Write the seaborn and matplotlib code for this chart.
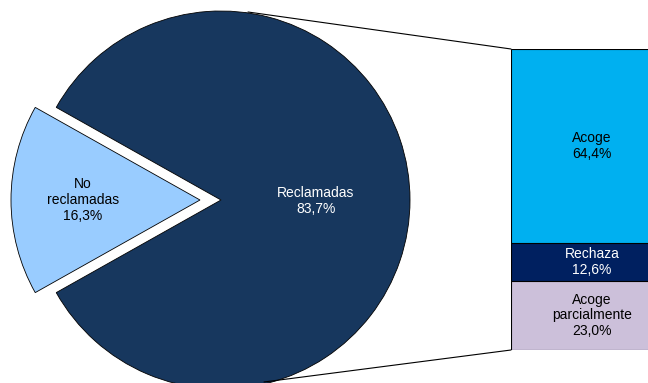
import matplotlib
matplotlib.use("Agg")
import matplotlib.pyplot as plt
import seaborn as sns
import pandas as pd

# Pie data
pie_labels = ["Reclamadas", "No\nreclamadas"]
pie_values = [83.7, 16.3]
pie_colors = ["#17375E", "#99CCFF"]
pie_text_colors = ["white", "black"]

# Breakdown of "Reclamadas" (bottom to top)
bar_labels = ["Acoge\nparcialmente", "Rechaza", "Acoge"]
bar_values = [23.0, 12.6, 64.4]
bar_colors = ["#CCC0DA", "#002060", "#00B0F0"]
bar_text_colors = ["black", "white", "black"]


def pct(v):
    return f"{v:.1f}".replace(".", ",") + "%"


sns.set_theme(style="white")
plt.rcParams["font.family"] = ["Liberation Sans", "DejaVu Sans"]

W, H = 648, 383
fig = plt.figure(figsize=(W / 100, H / 100), dpi=100)

# Pie axes working in pixel units (y measured upward)
ax = fig.add_axes([0, 0, 1, 1])
ax.set_xlim(0, W)
ax.set_ylim(0, H)
ax.set_axis_off()

cx, cy, r = 221, H - 200, 189
start = 180 - (pie_values[0] + pie_values[1] / 2) / 100 * 360 + 360
# explode offsets are in data units here (pixels)
wedges, _ = ax.pie(
    pie_values,
    colors=pie_colors,
    explode=[0, 21],
    startangle=start,
    center=(cx, cy),
    radius=r,
    frame=True,
    wedgeprops=dict(edgecolor="black", linewidth=0.6),
)
ax.set_xlim(0, W)
ax.set_ylim(0, H)
ax.set_aspect("auto")
ax.set_axis_off()

ax.text(316, H - 201, f"{pie_labels[0]}\n{pct(pie_values[0])}", ha="center",
        va="center", color=pie_text_colors[0], fontsize=10, linespacing=1.15)
ax.text(83, H - 200, f"{pie_labels[1]}\n{pct(pie_values[1])}", ha="center",
        va="center", color=pie_text_colors[1], fontsize=10, linespacing=1.15)

# Connector lines from the pie to the stacked bar
bar_left, bar_top, bar_bottom, bar_w = 511, 49, 350, 162
ax.plot([248, bar_left], [H - 12, H - bar_top], color="black", lw=0.8)
ax.plot([264, bar_left], [H - 382, H - bar_bottom], color="black", lw=0.8)

# Stacked bar, drawn as layered cumulative bars
bax = fig.add_axes([bar_left / W, (H - bar_bottom) / H, bar_w / W,
                    (bar_bottom - bar_top) / H])
cum = pd.Series(bar_values).cumsum().tolist()
for i in reversed(range(len(bar_values))):
    df = pd.DataFrame({"x": ["Reclamadas"], "y": [cum[i]]})
    sns.barplot(data=df, x="x", y="y", color=bar_colors[i], width=1.0,
                saturation=1, edgecolor="black", linewidth=0.8, ax=bax)
bax.set_xlim(-0.5, 0.5)
bax.set_ylim(0, 100)
bax.set_axis_off()

lo = 0
for lab, v, tc in zip(bar_labels, bar_values, bar_text_colors):
    bax.text(0, lo + v / 2, f"{lab}\n{pct(v)}", ha="center", va="center",
             color=tc, fontsize=10, linespacing=1.15)
    lo += v

fig.savefig("out.png", dpi=100)
